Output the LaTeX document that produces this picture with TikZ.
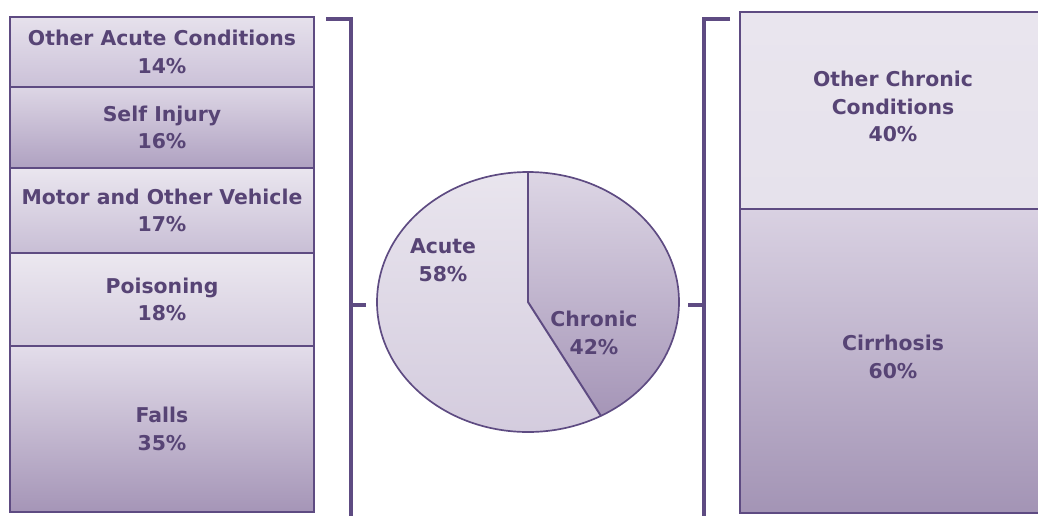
\documentclass[tikz,border=0pt]{standalone}
\usepackage{fontspec}
\setmainfont{DejaVu Sans}
\definecolor{edge}{HTML}{5E4B82}
\definecolor{ink}{HTML}{574475}
\definecolor{oacA}{HTML}{E6E1EC}\definecolor{oacB}{HTML}{CBC1D8}
\definecolor{sijA}{HTML}{DDD6E5}\definecolor{sijB}{HTML}{AFA1C1}
\definecolor{movA}{HTML}{EAE6EF}\definecolor{movB}{HTML}{C8BED5}
\definecolor{poiA}{HTML}{ECE8F0}\definecolor{poiB}{HTML}{D4CCDE}
\definecolor{falA}{HTML}{E3DDEA}\definecolor{falB}{HTML}{A595B7}
\definecolor{occA}{HTML}{E9E5EE}\definecolor{occB}{HTML}{E6E2EC}
\definecolor{cirA}{HTML}{D9D1E2}\definecolor{cirB}{HTML}{A394B5}
\tikzset{
  box/.style={draw=edge, line width=1.6pt},
  txt/.style={text=ink, font=\bfseries\fontsize{14.5}{19.5}\selectfont, align=center},
  bracket/.style={draw=edge, line width=2.2pt},
}
\begin{document}
\begin{tikzpicture}[x=0.025cm, y=0.025cm]
\useasboundingbox (0,0) rectangle (1038,-515);

% left stack: acute causes
\foreach \n/\ya/\yb/\c/\t in {oac/17/87/oac/{Other Acute Conditions\\14\%},
    sij/87/168/sij/{Self Injury\\16\%},
    mov/168/253/mov/{Motor and Other Vehicle\\17\%},
    poi/253/346/poi/{Poisoning\\18\%},
    fal/346/512/fal/{Falls\\35\%}}{
	\draw[box, top color=\c A, bottom color=\c B] (10,-\ya) rectangle (314,-\yb);
	\node[txt] (\n) at (162,{-(\ya+\yb)/2}) {\t};
}

% right stack: chronic causes
\foreach \n/\ya/\yb/\c/\t in {occ/12/209/occ/{Other Chronic\\Conditions\\40\%},
    cir/209/513/cir/{Cirrhosis\\60\%}}{
	\draw[box, top color=\c A, bottom color=\c B] (740,-\ya) rectangle (1048,-\yb);
	\node[txt] (\n) at (893,{-(\ya+\yb)/2+4}) {\t};
}

% brackets
\draw[bracket] (326,-19)--(351,-19)--(351,-520);
\draw[bracket] (351,-305)--(366,-305);
\draw[bracket] (730,-19)--(704,-19)--(704,-520);
\draw[bracket] (704,-305)--(688,-305);

% pie
\shade[top color=occA, bottom color=poiB] (528,-302) ellipse[x radius=151, y radius=130];
\shade[top color=sijA, bottom color=falB] (528,-302)--(528,-172)
	arc[start angle=90, end angle=-61.2, x radius=151, y radius=130]--cycle;
\draw[edge, line width=1.2pt] (528,-302) ellipse[x radius=151, y radius=130];
\draw[edge, line width=1.4pt] (528,-172)--(528,-302)--(601,-416);
\node[txt] (acute) at (443,-260) {Acute\\58\%};
\node[txt] (chronic) at (594,-333) {Chronic\\42\%};

\end{tikzpicture}
\end{document}
